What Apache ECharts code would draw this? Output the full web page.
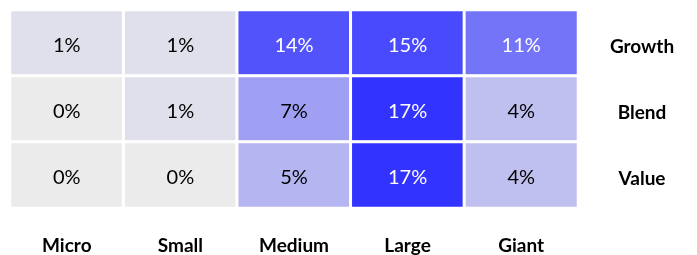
<!DOCTYPE html>
<html>
<head>
<meta charset="utf-8">
<script src="https://cdn.jsdelivr.net/npm/echarts@6/dist/echarts.min.js"></script>
<style>
  html, body { margin: 0; padding: 0; background: #fff; }
  #main { width: 697px; height: 255px; }
</style>
</head>
<body>
<div id="main"></div>
<script>
// 规模 x 风格 热力图
const sizes = ["Micro", "Small", "Medium", "Large", "Giant"];
const styles = ["Growth", "Blend", "Value"];
const growthVals = [1, 1, 14, 15, 11];
const blendVals = [0, 1, 7, 17, 4];
const valueVals = [0, 0, 5, 17, 4];

const rows = [growthVals, blendVals, valueVals];
let cells = [];
rows.forEach((vals, yi) => {
  vals.forEach((v, xi) => {
    cells.push({
      value: [xi, yi, v],
      label: { color: v >= 10 ? "#fff" : "#000" } // 深色格子用白字
    });
  });
});

let myChart = echarts.init(document.getElementById("main"));
let option = {
  backgroundColor: "#fff",
  animation: false,
  grid: {
    left: 10,
    right: 119,
    top: 10,
    bottom: 45,
  },
  xAxis: {
    type: "category",
    data: sizes,
    axisLine: { show: false },
    axisTick: { show: false },
    splitArea: { show: false },
    axisLabel: {
      margin: 28,
      color: "#000",
      fontSize: 19,
      fontWeight: "bold",
      fontFamily: "Lato",
    },
  },
  yAxis: {
    type: "category",
    data: styles,
    inverse: true,
    position: "right",
    axisLine: { show: false },
    axisTick: { show: false },
    axisLabel: {
      margin: 64,
      align: "center",
      formatter: (v) => "{s|" + v + "}",
      rich: {
        s: {
          padding: [7, 0, 0, 0],
          color: "#000",
          fontSize: 19,
          fontWeight: "bold",
          fontFamily: "Lato",
        },
      },
    },
  },
  visualMap: {
    show: false,
    min: 0,
    max: 17,
    dimension: 2,
    inRange: {
      color: ["#ebebeb", "#3333ff"],
    },
  },
  series: [
    {
      type: "heatmap",
      data: cells,
      itemStyle: {
        borderColor: "#fff",
        borderWidth: 3,
      },
      label: {
        show: true,
        fontSize: 20,
        fontFamily: "Lato",
        offset: [0, 3],
        formatter: (p) => p.value[2] + "%",
      },
    },
  ],
};
myChart.setOption(option);
</script>
</body>
</html>
